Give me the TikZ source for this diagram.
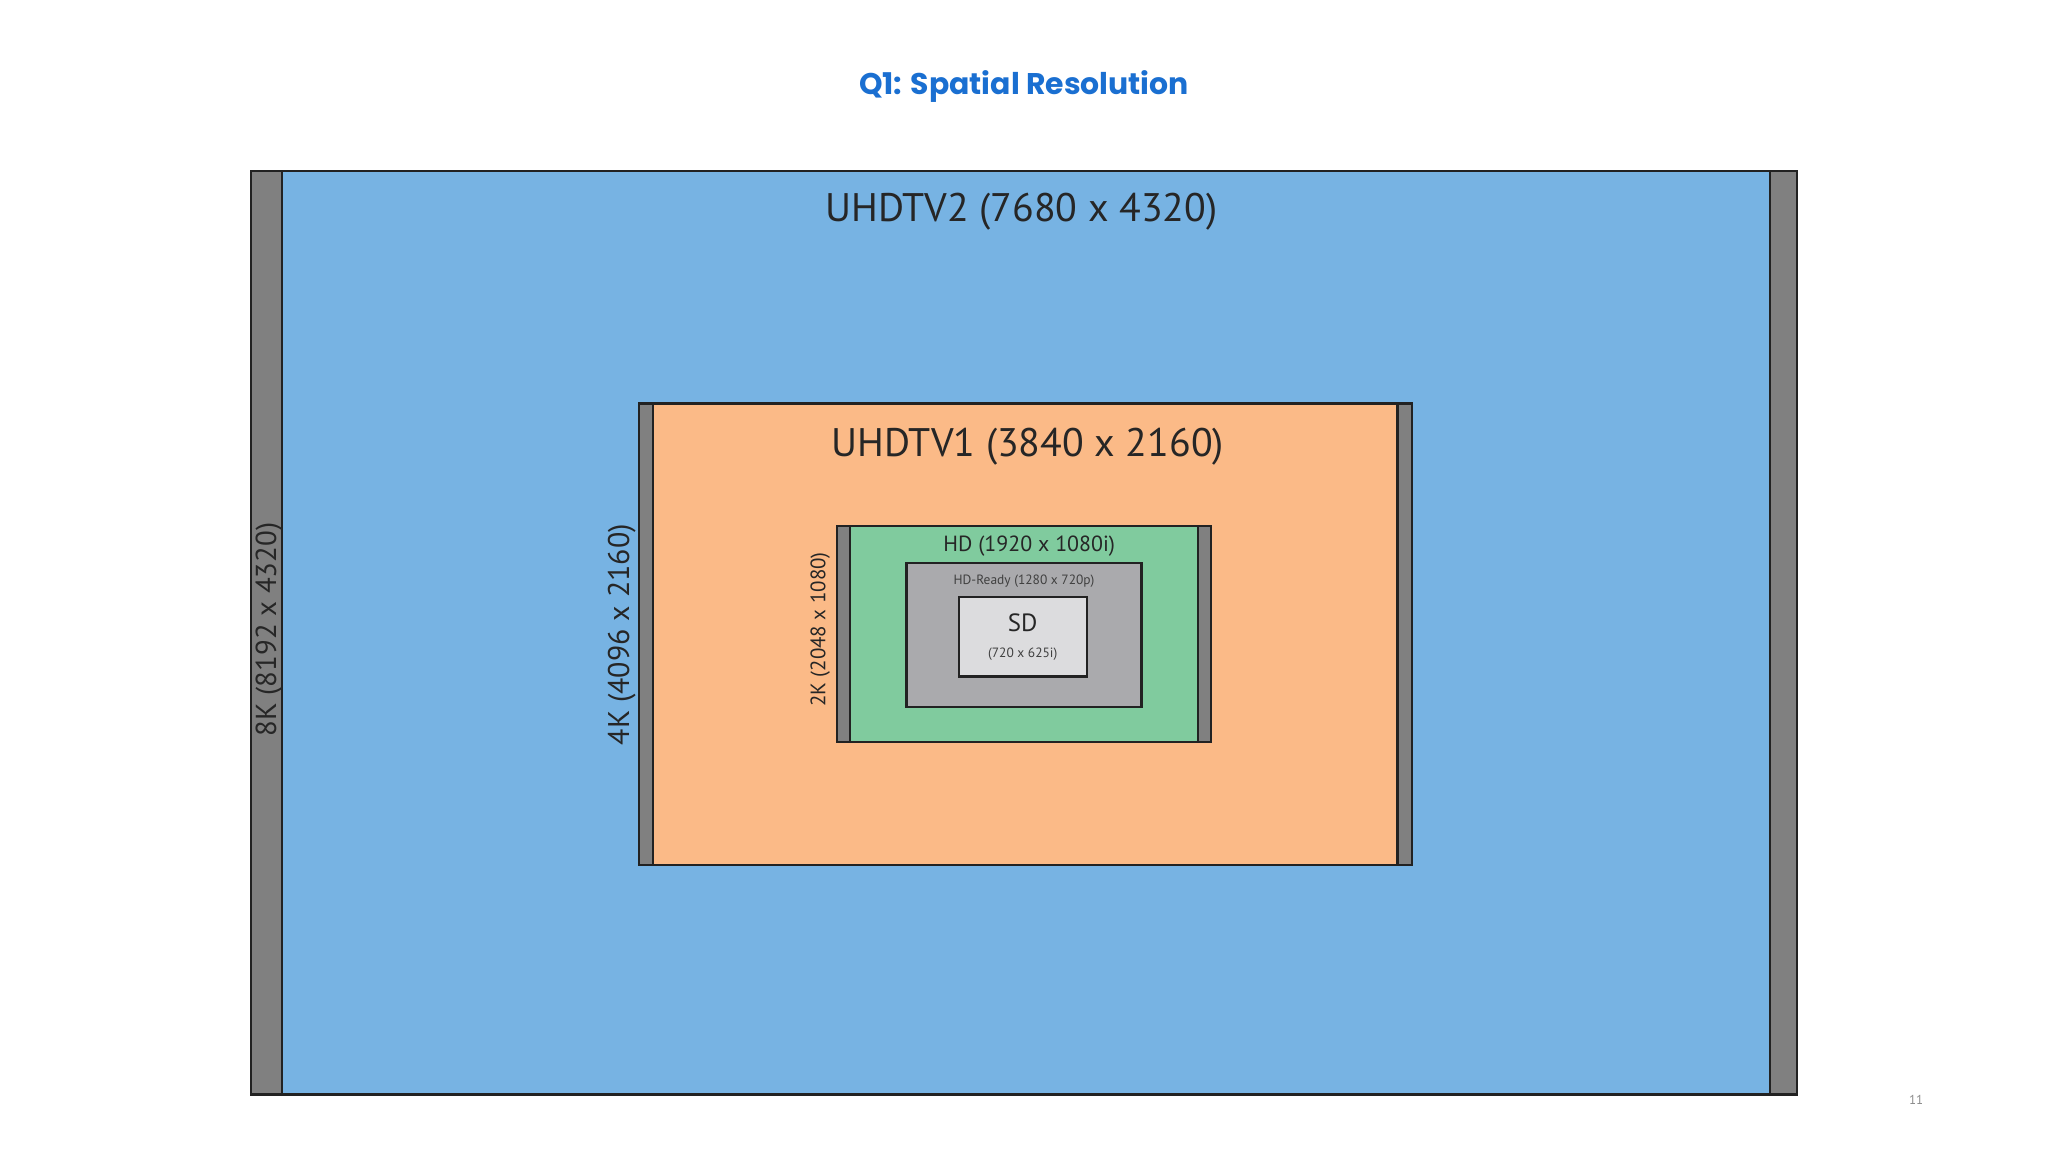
\documentclass[tikz,border=0pt]{standalone}
\usepackage{fontspec}
\setmainfont{PT Sans}
\newfontfamily\titlefont{Poppins}
\definecolor{bluefill}{HTML}{77B3E3}
\definecolor{orangefill}{HTML}{FBBA87}
\definecolor{greenfill}{HTML}{80CB9E}
\definecolor{grayfill}{HTML}{AAAAAD}
\definecolor{sdfill}{HTML}{DCDCDE}
\definecolor{barfill}{HTML}{808080}
\definecolor{edge}{HTML}{222222}
\definecolor{titleblue}{HTML}{1A6FD1}
\tikzset{
  scr/.style={draw=edge, line width=2.2bp},
  bar/.style={draw=edge, fill=barfill, line width=2.2bp},
  lbl/.style={inner sep=0, text=black!85},
}
\begin{document}
\begin{tikzpicture}[x=1.306bp,y=-1.306bp]
\useasboundingbox[fill=white] (0,0) rectangle (1568,882);
\node[font=\titlefont\bfseries\fontsize{30}{36}\selectfont, text=titleblue] (title) at (784,66) {Q1: Spatial Resolution};
% outer
\fill[bluefill] (192,131) rectangle (1376,838);
\draw[bar] (192,131) rectangle (216,838);
\draw[bar] (1355,131) rectangle (1376,838);
\draw[scr] (192,131) rectangle (1376,838);
\node[lbl, font=\fontsize{40}{44}\selectfont] (uhd2) at (782,162) {UHDTV2 (7680 x 4320)};
\node[lbl, rotate=90, font=\fontsize{29}{33}\selectfont] (k8) at (206,482) {8K (8192 x 4320)};
% orange
\fill[orangefill] (489,309) rectangle (1081,662);
\draw[bar] (489,309) rectangle (500,662);
\draw[bar] (1070,309) rectangle (1081,662);
\draw[scr] (489,309) rectangle (1081,662);
\node[lbl, font=\fontsize{40}{44}\selectfont] (uhd1) at (787,342) {UHDTV1 (3840 x 2160)};
\node[lbl, rotate=90, font=\fontsize{30}{34}\selectfont] (k4) at (476,486) {4K (4096 x 2160)};
% green
\fill[greenfill] (641,403) rectangle (927,568);
\draw[bar] (641,403) rectangle (651,568);
\draw[bar] (917,403) rectangle (927,568);
\draw[scr] (641,403) rectangle (927,568);
\node[lbl, font=\fontsize{22}{26}\selectfont] (hd) at (788,418) {HD (1920 x 1080i)};
\node[lbl, rotate=90, font=\fontsize{21}{25}\selectfont] (k2) at (628,482) {2K (2048 x 1080)};
% gray
\draw[scr, fill=grayfill] (694,431) rectangle (874,541);
\node[lbl, font=\fontsize{13.5}{16}\selectfont, text=black!75] (hdr) at (784,445) {HD-Ready (1280 x 720p)};
% SD
\draw[scr, fill=sdfill] (734,457) rectangle (832,518);
\node[lbl, font=\fontsize{25}{29}\selectfont] (sd) at (783,477) {SD};
\node[lbl, font=\fontsize{13.5}{16}\selectfont, text=black!75] (sdr) at (783,501) {(720 x 625i)};
\node[lbl, font=\fontsize{13}{16}\selectfont, text=black!45] (pg) at (1467,842) {11};
\end{tikzpicture}
\end{document}
